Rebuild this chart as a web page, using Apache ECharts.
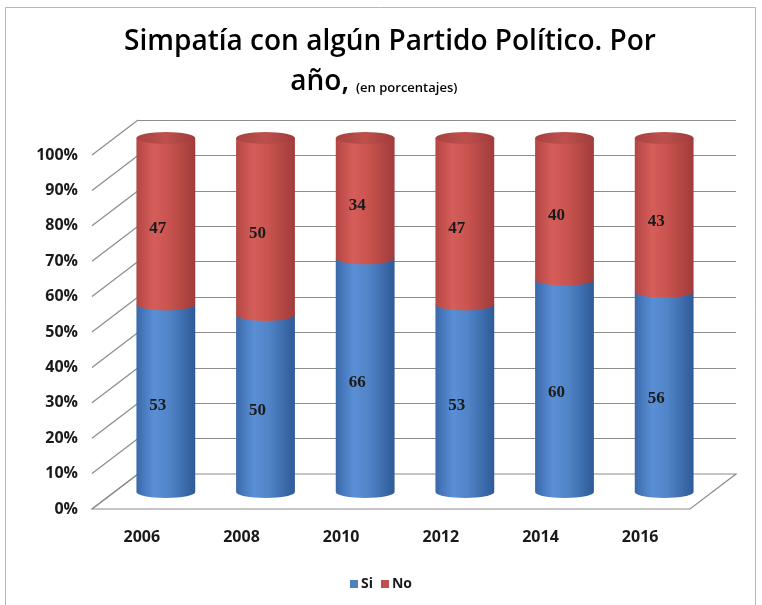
<!DOCTYPE html>
<html>
<head>
<meta charset="utf-8">
<script src="https://cdn.jsdelivr.net/npm/echarts@6/dist/echarts.min.js"></script>
<style>
  html, body { margin: 0; padding: 0; background: #ffffff; }
  #chart { width: 762px; height: 605px; }
</style>
</head>
<body>
<div id="chart"></div>
<script>
// Survey results per year (percent)
const years = ['2006', '2008', '2010', '2012', '2014', '2016'];
const si = [53, 50, 66, 53, 60, 56];
const no = [47, 50, 34, 47, 40, 43];
const yTicks = [0, 10, 20, 30, 40, 50, 60, 70, 80, 90, 100];

// Shift between the front plane (labels, floor edge) and the back wall
const DEPTH_X = 46;
const DEPTH_Y = 35;

const FONT = '"Open Sans", "Liberation Sans", sans-serif';

// 100% stacked: each column is normalised to its own total
const totals = years.map((_, i) => si[i] + no[i]);
const siData = years.map((_, i) => [i, 0, si[i] / totals[i] * 100, si[i]]);
const noData = years.map((_, i) => [i, si[i] / totals[i] * 100, 100, no[i]]);

const palette = {
  Si: {
    legend: '#4f81bd',
    body: [[0, '#3a69aa'], [0.3, '#5a8fd6'], [0.55, '#5185c8'], [1, '#2e5a98']]
  },
  No: {
    legend: '#c0504d',
    body: [[0, '#b54644'], [0.3, '#d55e5a'], [0.55, '#c9534f'], [1, '#a03c3a']],
    top: [[0, '#a8423f'], [0.5, '#bd504d'], [1, '#a03c3a']]
  }
};

function gradient(stops) {
  return {
    type: 'linear', x: 0, y: 0, x2: 1, y2: 0,
    colorStops: stops.map(s => ({ offset: s[0], color: s[1] }))
  };
}

// Cylinder segment between two stacked values, with its label
function cylinderRenderer(name, isTop) {
  const pal = palette[name];
  return function (params, api) {
    const idx = api.value(0);
    const cx = api.coord([idx, 0])[0];
    const yBase = api.coord([idx, api.value(1)])[1];
    const yTop = api.coord([idx, api.value(2)])[1];
    const rx = api.size([1, 0])[0] * 0.295;
    const ry = 6;
    const left = cx - rx, right = cx + rx;
    const children = [{
      type: 'path',
      shape: {
        pathData: 'M' + left + ' ' + yTop + ' L' + left + ' ' + yBase +
          ' A' + rx + ' ' + ry + ' 0 0 0 ' + right + ' ' + yBase +
          ' L' + right + ' ' + yTop + ' Z'
      },
      style: { fill: gradient(pal.body) }
    }];
    if (isTop) {
      children.push({
        type: 'path',
        shape: {
          pathData: 'M' + left + ' ' + yTop +
            ' A' + rx + ' ' + ry + ' 0 1 0 ' + right + ' ' + yTop +
            ' A' + rx + ' ' + ry + ' 0 1 0 ' + left + ' ' + yTop + ' Z'
        },
        style: { fill: gradient(pal.top) }
      });
    }
    children.push({
      type: 'text',
      style: {
        text: String(api.value(3)),
        x: cx - 8,
        y: (yBase + yTop) / 2 + 7,
        align: 'center',
        verticalAlign: 'middle',
        font: 'bold 17px "Liberation Serif", serif',
        fill: '#1a1a1a'
      }
    });
    return { type: 'group', children: children };
  };
}

// Perspective lines from the front labels to the back wall, plus the floor
function wallRenderer(params, api) {
  const v = api.value(1);
  const p = api.coord([0, v]);
  const lineStyle = { stroke: '#8c8c8c', lineWidth: 1.2 };
  const children = [{
    type: 'line',
    shape: { x1: p[0], y1: p[1], x2: p[0] - DEPTH_X, y2: p[1] + DEPTH_Y },
    style: lineStyle
  }];
  if (v === 0) {
    const r = api.coord([1, 0]);
    children.unshift({
      type: 'polygon',
      shape: {
        points: [[p[0], p[1]], [r[0], r[1]], [r[0] - DEPTH_X, r[1] + DEPTH_Y], [p[0] - DEPTH_X, p[1] + DEPTH_Y]]
      },
      style: { fill: '#ffffff', stroke: '#8c8c8c', lineWidth: 1.2 }
    });
  }
  return { type: 'group', children: children };
}

const chart = echarts.init(document.getElementById('chart'), null, { renderer: 'canvas' });

chart.setOption({
  backgroundColor: '#ffffff',
  animation: false,
  graphic: [
    {
      type: 'rect',
      shape: { x: 5.5, y: 7.5, width: 750, height: 605 },
      style: { fill: 'none', stroke: '#b8b8b8', lineWidth: 1 },
      z: 0
    },
    {
      type: 'text',
      style: {
        text: 'Simpatía con algún Partido Político. Por',
        x: 390, y: 42, align: 'center', verticalAlign: 'middle',
        font: '600 28px ' + FONT, fill: '#000000'
      }
    },
    {
      type: 'text',
      style: {
        text: 'año,',
        x: 349, y: 82, align: 'right', verticalAlign: 'middle',
        font: '600 28px ' + FONT, fill: '#000000'
      }
    },
    {
      type: 'text',
      style: {
        text: '(en porcentajes)',
        x: 356, y: 88, align: 'left', verticalAlign: 'middle',
        font: '600 13px ' + FONT, fill: '#000000'
      }
    }
  ],
  legend: {
    data: ['Si', 'No'],
    left: 'center',
    top: 572,
    icon: 'rect',
    itemWidth: 8,
    itemHeight: 8,
    itemGap: 8,
    textStyle: { fontFamily: FONT, fontWeight: 'bold', fontSize: 14, color: '#1a1a1a', padding: [0, 0, 0, -2] }
  },
  grid: [
    { left: 92, top: 155, width: 598, height: 354 },                       // front plane
    { left: 92 + DEPTH_X, top: 155 - DEPTH_Y, width: 598, height: 354 },   // back wall
    { left: 116, top: 138, width: 598, height: 354 }                       // cylinder axis plane
  ],
  xAxis: [
    {
      gridIndex: 0, type: 'category', data: years,
      axisLine: { show: false }, axisTick: { show: false },
      axisLabel: { margin: 20, fontFamily: FONT, fontWeight: 'bold', fontSize: 16, color: '#1a1a1a' }
    },
    { gridIndex: 1, type: 'value', min: 0, max: 1, show: false },
    { gridIndex: 2, type: 'category', data: years, show: false }
  ],
  yAxis: [
    {
      gridIndex: 0, type: 'value', min: 0, max: 100, interval: 10,
      axisLine: { show: false }, axisTick: { show: false }, splitLine: { show: false },
      axisLabel: { formatter: '{value}%', margin: 14, fontFamily: FONT, fontWeight: 'bold', fontSize: 16, color: '#1a1a1a' }
    },
    {
      gridIndex: 1, type: 'value', min: 0, max: 100, interval: 10,
      axisLine: { show: false }, axisTick: { show: false }, axisLabel: { show: false },
      splitLine: { show: true, lineStyle: { color: '#8c8c8c', width: 1.2 } }
    },
    { gridIndex: 2, type: 'value', min: 0, max: 100, show: false }
  ],
  series: [
    {
      type: 'custom',
      xAxisIndex: 1, yAxisIndex: 1,
      data: yTicks.map(v => [0, v]),
      encode: { x: 0, y: 1 },
      renderItem: wallRenderer,
      silent: true,
      z: 1
    },
    {
      name: 'Si', type: 'custom',
      xAxisIndex: 2, yAxisIndex: 2,
      data: siData,
      encode: { x: 0, y: [1, 2] },
      itemStyle: { color: palette.Si.legend },
      renderItem: cylinderRenderer('Si', false),
      z: 3
    },
    {
      name: 'No', type: 'custom',
      xAxisIndex: 2, yAxisIndex: 2,
      data: noData,
      encode: { x: 0, y: [1, 2] },
      itemStyle: { color: palette.No.legend },
      renderItem: cylinderRenderer('No', true),
      z: 3
    }
  ]
});
</script>
</body>
</html>
